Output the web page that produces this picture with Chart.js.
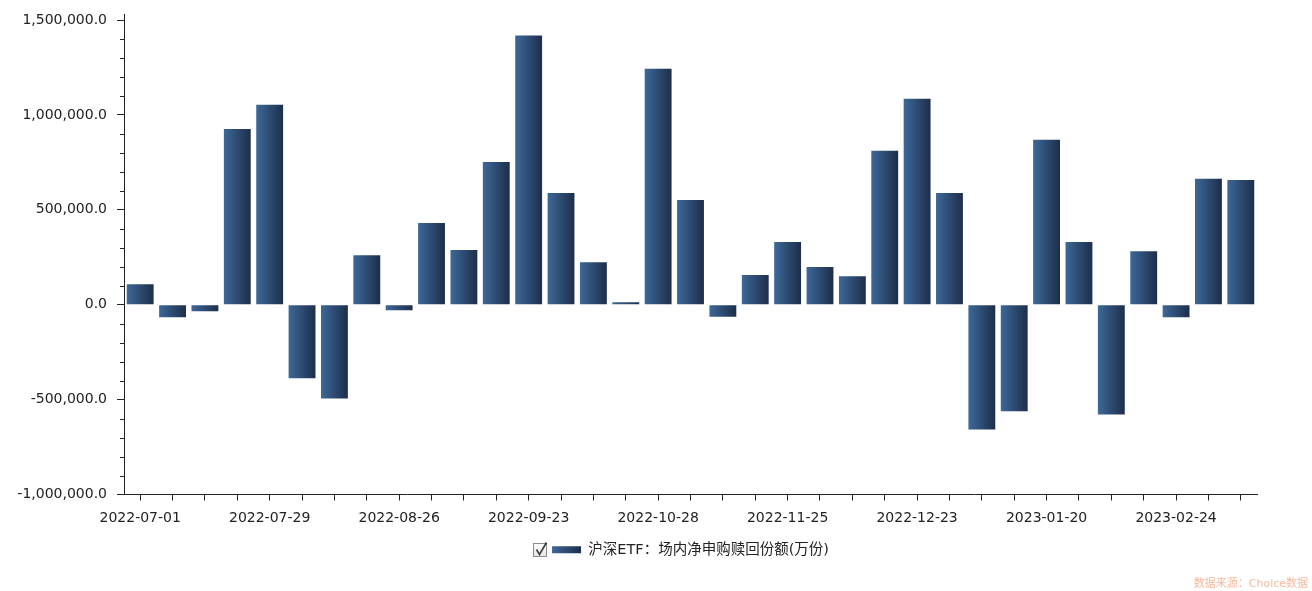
<!DOCTYPE html>
<html>
<head>
<meta charset="utf-8">
<script src="https://cdn.jsdelivr.net/npm/chart.js@4"></script>
<style>
  html, body { margin: 0; padding: 0; background: #fff; }
  #wrap { width: 1312px; height: 591px; position: relative; }
</style>
</head>
<body>
<div id="wrap"><canvas id="etfChart"></canvas></div>
<script>
// 沪深ETF 场内净申购赎回份额（周度）

const dates = [
  "2022-07-01", "2022-07-08", "2022-07-15", "2022-07-22", "2022-07-29",
  "2022-08-05", "2022-08-12", "2022-08-19", "2022-08-26", "2022-09-02",
  "2022-09-09", "2022-09-16", "2022-09-23", "2022-09-30", "2022-10-14",
  "2022-10-21", "2022-10-28", "2022-11-04", "2022-11-11", "2022-11-18",
  "2022-11-25", "2022-12-02", "2022-12-09", "2022-12-16", "2022-12-23",
  "2022-12-30", "2023-01-06", "2023-01-13", "2023-01-20", "2023-02-03",
  "2023-02-10", "2023-02-17", "2023-02-24", "2023-03-03", "2023-03-10",
];

const netShares = [
  108000, -66000, -34000, 926000, 1053000,
  -388000, -494000, 261000, -29000, 430000,
  288000, 752000, 1418000, 589000, 224000,
  13000, 1243000, 552000, -64000, 156000,
  330000, 198000, 150000, 811000, 1085000,
  589000, -657000, -562000, 869000, 330000,
  -578000, 282000, -66000, 663000, 657000,
];

const seriesName = "沪深ETF：场内净申购赎回份额(万份)";
const yMin = -1000000;
const yMax = 1500000;
const yMajorStep = 500000;
const yMinorStep = 100000;
const sourceText = "数据来源：Choice数据";

const FONT = "'DejaVu Sans', 'Noto Sans CJK SC', sans-serif";
const BAR_FRACTION = 0.83;

function barGradient(ctx, left, right) {
  const g = ctx.createLinearGradient(left, 0, right, 0);
  g.addColorStop(0, "#3d6898");
  g.addColorStop(1, "#1d2e4a");
  return g;
}

// minor ticks, axis extension, legend checkbox/swatch, source text
const decorations = {
  id: "decorations",
  afterDraw(chart) {
    const ctx = chart.ctx;
    const area = chart.chartArea;
    const ys = chart.scales.y;
    ctx.save();
    ctx.strokeStyle = "#222";
    ctx.lineWidth = 1;

    // y axis line goes a bit above the top value
    const ax = Math.round(area.left) + 0.5;
    ctx.beginPath();
    ctx.moveTo(ax, area.top - 6);
    ctx.lineTo(ax, area.top);
    ctx.stroke();

    // minor ticks
    ctx.beginPath();
    for (let v = yMin; v <= yMax; v += yMinorStep) {
      if (v % yMajorStep === 0) continue;
      const py = Math.round(ys.getPixelForValue(v)) + 0.5;
      ctx.moveTo(ax - 4.5, py);
      ctx.lineTo(ax, py);
    }
    ctx.stroke();

    // legend: checkbox + gradient swatch
    const legend = chart.legend;
    if (legend && legend.legendHitBoxes && legend.legendHitBoxes.length) {
      const hb = legend.legendHitBoxes[0];
      const cy = hb.top + hb.height / 2;
      const sw = 29, sh = 7;
      const sx = hb.left;
      ctx.fillStyle = "#fff";
      ctx.fillRect(sx - 1, cy - 8, sw + 2, 16);
      ctx.fillStyle = barGradient(ctx, sx, sx + sw);
      ctx.fillRect(sx, cy - sh / 2, sw, sh);

      const bx = Math.round(sx - 19) + 0.5;
      const by = Math.round(cy - 7) + 0.5;
      const bg = ctx.createLinearGradient(0, by, 0, by + 14);
      bg.addColorStop(0, "#fdfdfd");
      bg.addColorStop(1, "#e2e2e2");
      ctx.fillStyle = bg;
      ctx.fillRect(bx, by, 13, 13);
      ctx.strokeStyle = "#8c8c8c";
      ctx.strokeRect(bx, by, 13, 13);
      ctx.strokeStyle = "#3a3a3a";
      ctx.lineWidth = 1.6;
      ctx.beginPath();
      ctx.moveTo(bx + 3, by + 6);
      ctx.lineTo(bx + 6, by + 11);
      ctx.lineTo(bx + 13, by - 1);
      ctx.stroke();
    }

    // source note
    ctx.font = "11px " + FONT;
    ctx.fillStyle = "#f5b99b";
    ctx.textAlign = "right";
    ctx.textBaseline = "middle";
    ctx.fillText(sourceText, 1308, 584);
    ctx.restore();
  },
};

document.addEventListener("DOMContentLoaded", function () {
  const canvas = document.getElementById("etfChart");
  const ctx = canvas.getContext("2d");

  new Chart(ctx, {
    type: "bar",
    data: {
      labels: dates,
      datasets: [
        {
          label: seriesName,
          data: netShares,
          backgroundColor: function (c) {
            const chart = c.chart;
            const xs = chart.scales.x;
            if (!chart.chartArea || !xs || c.dataIndex === undefined) return "#2e4a72";
            const cx = xs.getPixelForValue(c.dataIndex);
            const w = (xs.width / dates.length) * BAR_FRACTION;
            return barGradient(chart.ctx, cx - w / 2, cx + w / 2);
          },
          borderWidth: 0,
          barPercentage: BAR_FRACTION,
          categoryPercentage: 1,
        },
      ],
    },
    options: {
      responsive: true,
      maintainAspectRatio: false,
      animation: false,
      layout: {
        padding: { left: 0, right: 55, top: 20, bottom: 24 },
      },
      plugins: {
        tooltip: { enabled: false },
        legend: {
          position: "bottom",
          fullSize: false,
          labels: {
            boxWidth: 29,
            boxHeight: 7,
            padding: 10,
            color: "#222",
            font: { family: FONT, size: 14.5 },
          },
        },
      },
      scales: {
        x: {
          afterFit: function (s) { s.height = 38; },
          grid: {
            offset: false,
            drawOnChartArea: false,
            tickLength: 6,
            tickColor: "#222",
          },
          border: { color: "#222", width: 1 },
          ticks: {
            autoSkip: false,
            maxRotation: 0,
            padding: 9,
            color: "#222",
            font: { family: FONT, size: 14 },
            callback: function (v, i) {
              return i % 4 === 0 ? dates[i] : "";
            },
          },
        },
        y: {
          min: yMin,
          max: yMax,
          afterFit: function (s) { s.width = 124; },
          grid: {
            drawOnChartArea: false,
            tickLength: 7,
            tickColor: function (c) {
              return c.tick && c.tick.value % yMajorStep === 0 ? "#222" : "rgba(0,0,0,0)";
            },
          },
          border: { color: "#222", width: 1 },
          ticks: {
            stepSize: yMinorStep,
            autoSkip: false,
            padding: 10,
            color: "#222",
            font: { family: FONT, size: 14 },
            callback: function (v) {
              if (v % yMajorStep !== 0) return "";
              return Number(v).toLocaleString("en-US", {
                minimumFractionDigits: 1,
                maximumFractionDigits: 1,
              });
            },
          },
        },
      },
    },
    plugins: [decorations],
  });
});
</script>
</body>
</html>
